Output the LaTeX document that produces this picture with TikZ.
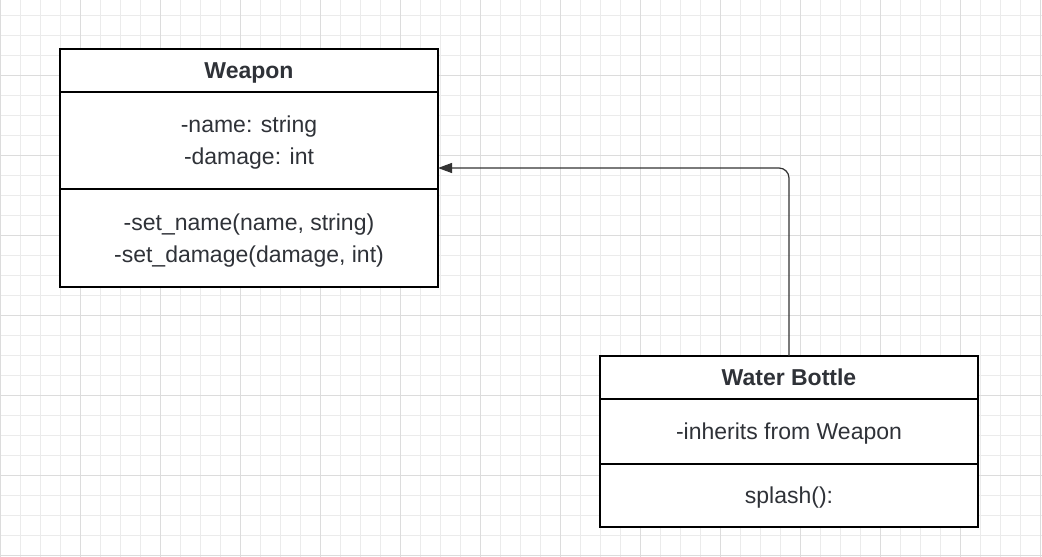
\documentclass[tikz,border=0pt]{standalone}
\usepackage{fontspec}
\setmainfont{Liberation Sans}
\usetikzlibrary{arrows.meta, positioning}

\definecolor{gridminor}{HTML}{EBEBEB}
\definecolor{gridmajor}{HTML}{DCDCDC}
\definecolor{umltext}{HTML}{2F3238}
\definecolor{linkgray}{HTML}{333333}

\begin{document}
\begin{tikzpicture}[x=1pt, y=-1pt,
    compart/.style={draw=black, line width=2pt, fill=white, minimum width=378pt, inner sep=0pt, outer sep=0pt, align=center, text depth=-1pt, text=umltext, font=\fontsize{23}{32}\selectfont},
    classname/.style={compart, minimum height=43pt, font=\fontsize{23}{32}\selectfont\bfseries},
    inherit/.style={-{Triangle[length=14pt, width=10pt]}, draw=linkgray, line width=1.2pt, rounded corners=10pt}
]

% Background grid
\useasboundingbox (0,0) rectangle (1042,557);
\fill[white] (0,0) rectangle (1042,557);
\foreach \x in {0,20,...,1040} {
    \draw[gridminor, line width=1pt] (\x,0) -- (\x,557);
}
\foreach \y in {15,35,...,555} {
    \draw[gridminor, line width=1pt] (0,\y) -- (1042,\y);
}
\foreach \x in {0,80,...,1040} {
    \draw[gridmajor, line width=1pt] (\x,0) -- (\x,557);
}
\foreach \y in {75,155,...,555} {
    \draw[gridmajor, line width=1pt] (0,\y) -- (1042,\y);
}

% Weapon class
\node[classname] (weapon) at (249,70.5) {Weapon};
\node[compart, minimum height=97pt, below=0pt of weapon] (weaponattr) {-name: string\\-damage: int};
\node[compart, minimum height=98pt, below=0pt of weaponattr] (weaponops) {-set\_name(name, string)\\-set\_damage(damage, int)};

% Water Bottle class
\node[classname] (bottle) at (789,377.5) {Water Bottle};
\node[compart, minimum height=65pt, below=0pt of bottle] (bottleattr) {-inherits from Weapon};
\node[compart, minimum height=63pt, below=0pt of bottleattr] (bottleops) {splash():};

% Inheritance
\draw[inherit] (bottle.north) |- ([yshift=-27.5pt]weaponattr.east);

\end{tikzpicture}
\end{document}
